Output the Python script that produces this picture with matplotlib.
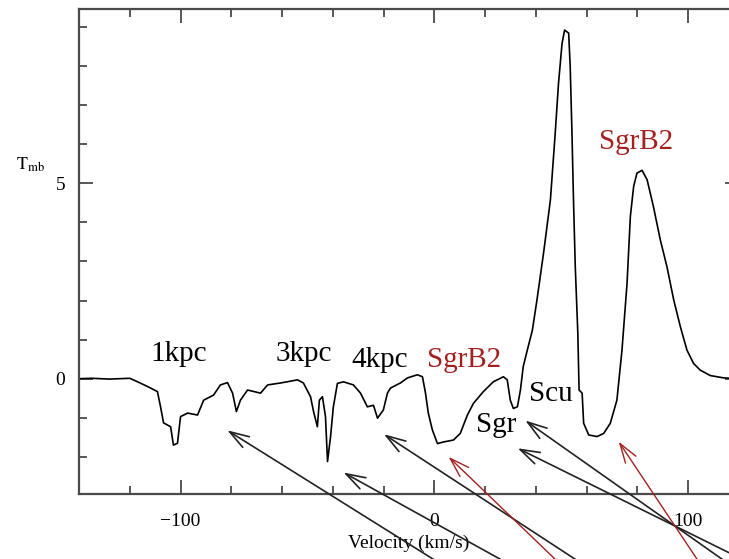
import matplotlib
matplotlib.use('Agg')
import matplotlib.pyplot as plt
from matplotlib.ticker import MultipleLocator

plt.rcParams['font.family'] = 'Liberation Serif'
plt.rcParams['mathtext.fontset'] = 'stix'

# espectro (km/s, Tmb)
vel = [-140.0, -135.0, -128.0, -120.0, -116.9, -113.0, -109.1, -107.9, -106.7, -103.9,
       -102.8, -101.2, -100.0, -97.2, -93.3, -90.9, -87.0, -84.3, -81.5, -79.5,
       -78.0, -76.4, -73.6, -68.5, -65.7, -60.6, -53.9, -51.6, -48.8, -47.6,
       -46.1, -45.3, -44.1, -42.9, -42.1, -40.9, -39.8, -38.2, -35.8, -31.9,
       -29.1, -26.4, -24.0, -22.4, -20.1, -18.5, -17.3, -13.4, -10.6, -6.7,
       -4.7, -3.5, -2.4, -0.8, 1.2, 3.5, 7.5, 10.2, 13.0, 15.4,
       19.3, 23.2, 27.2, 28.7, 29.9, 31.1, 32.7, 33.9, 35.0, 36.6,
       38.6, 40.4, 43.0, 45.7, 47.6, 48.9, 50.3, 51.3, 52.9, 53.5,
       54.2, 54.8, 55.5, 56.5, 57.0, 58.2, 58.8, 60.8, 64.1, 66.7,
       69.3, 71.9, 73.9, 75.9, 77.2, 78.5, 79.8, 81.8, 83.8, 86.3,
       89.0, 91.6, 94.3, 96.9, 99.5, 102.1, 104.7, 108.7, 114.0, 120.0]
tmb = [0.00, 0.01, -0.01, 0.01, -0.08, -0.20, -0.33, -0.71, -1.13, -1.23,
       -1.70, -1.65, -0.97, -0.88, -0.93, -0.55, -0.42, -0.16, -0.10, -0.37,
       -0.84, -0.55, -0.29, -0.37, -0.16, -0.11, -0.03, -0.11, -0.46, -0.84,
       -1.23, -0.55, -0.46, -0.97, -2.12, -1.48, -0.72, -0.12, -0.08, -0.16,
       -0.37, -0.72, -0.68, -1.01, -0.80, -0.37, -0.24, -0.11, 0.02, 0.10,
       0.05, -0.37, -0.88, -1.31, -1.66, -1.62, -1.57, -1.40, -0.93, -0.63,
       -0.33, -0.08, 0.05, -0.03, -0.55, -0.76, -0.72, -0.29, 0.31, 0.73,
       1.24, 2.01, 3.21, 4.57, 6.28, 7.56, 8.58, 8.92, 8.84, 7.99,
       6.28, 4.57, 2.87, 1.17, -0.29, -0.37, -1.14, -1.44, -1.48, -1.40,
       -1.14, -0.55, 0.73, 2.44, 4.15, 4.92, 5.26, 5.33, 5.09, 4.40,
       3.55, 2.87, 2.01, 1.33, 0.73, 0.39, 0.22, 0.08, 0.02, 0.00]

# rotulos das componentes
lab_txt = ['1kpc', '3kpc', '4kpc', 'SgrB2', 'Scu', 'Sgr', 'SgrB2']
lab_x = [-100.8, -51.4, -21.5, 11.8, 45.7, 24.4, 79.5]
lab_y = [0.45, 0.45, 0.31, 0.31, -0.56, -1.36, 5.87]
lab_red = [False, False, False, True, False, False, True]

# setas (ponta, cauda) em coordenadas de dados
seta_ponta = [(-81.6, -1.32), (-35.8, -2.40), (-19.9, -1.42), (5.6, -2.00),
              (35.8, -1.07), (32.8, -1.78), (72.6, -1.61)]
seta_cauda = [(-0.4, -4.62), (26.0, -4.62), (55.5, -4.62), (47.6, -4.62),
              (116.0, -4.74), (116.0, -4.45), (103.5, -4.62)]
seta_red = [False, False, False, True, False, False, True]

vermelho = '#a3201f'
cinza = '#4a4a4a'

fig = plt.figure(figsize=(7.29, 5.59), dpi=100)
ax = fig.add_axes([79/729, 65/559, 660/729, 484.7/559])

ax.plot(vel, tmb, color='black', lw=1.2)

for t, x, y, r in zip(lab_txt, lab_x, lab_y, lab_red):
    ax.text(x, y, t, fontsize=21, ha='center', va='baseline',
            color=vermelho if r else 'black')

for p, c, r in zip(seta_ponta, seta_cauda, seta_red):
    ax.annotate('', xy=p, xytext=c, annotation_clip=False,
                arrowprops=dict(arrowstyle='->,head_length=1.4,head_width=0.45',
                                color=vermelho if r else '#222222',
                                lw=1.0 if r else 1.2, shrinkA=0, shrinkB=0))

ax.set_xlim(-140, 120)
ax.set_ylim(-2.95, 9.45)
ax.xaxis.set_major_locator(MultipleLocator(100))
ax.xaxis.set_minor_locator(MultipleLocator(20))
ax.yaxis.set_major_locator(MultipleLocator(5))
ax.yaxis.set_minor_locator(MultipleLocator(1))
ax.tick_params(which='both', direction='in', top=True, right=True,
               color=cinza, width=1.3, labelsize=14)
ax.tick_params(which='major', length=10)
ax.tick_params(which='minor', length=5.5)
ax.tick_params(axis='x', pad=14)
ax.tick_params(axis='y', pad=10)
for s in ax.spines.values():
    s.set_color(cinza)
    s.set_linewidth(1.6)

ax.set_xlabel('Velocity (km/s)', fontsize=14, labelpad=3)
ax.set_ylabel(r'$\mathrm{T}_{\mathrm{mb}}$', fontsize=13, rotation=0)
ax.yaxis.set_label_coords(-0.074, 0.66)

fig.savefig('out.png', dpi=100)
